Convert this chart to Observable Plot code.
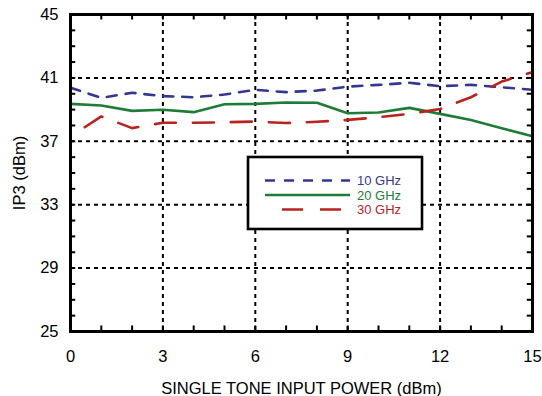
<!DOCTYPE html>
<html><head><meta charset="utf-8">
<script src="https://cdn.jsdelivr.net/npm/d3@7"></script>
<script src="https://cdn.jsdelivr.net/npm/@observablehq/plot@0.6"></script>
<style>body{margin:0;background:#fff;} svg{display:block;}</style>
</head><body><div id="chart"></div>
<script>
const power = [0,1,2,3,4,5,6,7,8,9,10,11,12,13,14,15];
const ghz10 = [40.38,39.74,40.06,39.85,39.78,39.95,40.25,40.1,40.2,40.45,40.56,40.69,40.48,40.56,40.41,40.25];
const ghz20 = [39.36,39.26,38.92,38.99,38.84,39.34,39.36,39.45,39.43,38.77,38.82,39.11,38.73,38.35,37.83,37.32];
const ghz30 = [37.3,38.57,37.83,38.17,38.17,38.2,38.25,38.15,38.23,38.35,38.52,38.73,39.04,39.78,40.77,41.36];
const xTicks = [0,3,6,9,12,15];
const yTicks = [25,29,33,37,41,45];
const xMinor = d3.range(0,16,1);
const yMinor = d3.range(25,46,1);
const seriesNames = ["10 GHz","20 GHz","30 GHz"];
const colors = ["#33378f","#1e7b38","#b8231f"];
const dashes = ["10,9",null,"21,17"];
const offsets = [0,0,21];

const rows = [];
[ghz10,ghz20,ghz30].forEach((vals,i)=>vals.forEach((v,j)=>rows.push({series:seriesNames[i],x:power[j],y:v})));

const font = "'Liberation Sans', Arial, Helvetica, sans-serif";
const lineMarks = seriesNames.map((s,i)=>Plot.line(rows.filter(r=>r.series===s),{
  x:"x", y:"y", stroke:colors[i], strokeWidth:2.6,
  strokeDasharray:dashes[i]||undefined, strokeDashoffset:offsets[i], curve:"linear"
}));

const chart = Plot.plot({
  width:542, height:396,
  marginLeft:70, marginRight:10, marginTop:14, marginBottom:65,
  style:{fontFamily:font, fontSize:"16.5px", background:"#fff", color:"#000"},
  x:{domain:[0,15]},
  y:{domain:[25,45]},
  marks:[
    Plot.ruleX(xTicks.slice(1,-1),{x:d=>d, stroke:"#000", strokeWidth:2, strokeDasharray:"4,4"}),
    Plot.ruleY(yTicks.slice(1,-1),{y:d=>d, stroke:"#000", strokeWidth:2, strokeDasharray:"4,4"}),
    Plot.ruleX(xMinor,{x:d=>d, y1:25, y2:25.35, stroke:"#000", strokeWidth:2}),
    Plot.ruleX(xMinor,{x:d=>d, y1:45, y2:44.65, stroke:"#000", strokeWidth:2}),
    Plot.ruleY(yMinor,{y:d=>d, x1:0, x2:0.17, stroke:"#000", strokeWidth:2}),
    Plot.ruleY(yMinor,{y:d=>d, x1:15, x2:14.83, stroke:"#000", strokeWidth:2}),
    ...lineMarks,
    Plot.frame({stroke:"#000", strokeWidth:3}),
    Plot.axisX({ticks:xTicks, tickSize:0, tickPadding:19, fontSize:16.5, label:"SINGLE TONE INPUT POWER (dBm)", labelAnchor:"center", labelArrow:"none", labelOffset:62}),
    Plot.axisY({ticks:yTicks, tickSize:0, tickPadding:12, fontSize:16.5, label:"IP3 (dBm)", labelAnchor:"center", labelArrow:"none", labelOffset:57})
  ]
});
document.getElementById("chart").appendChild(chart);

// legend
const svg = d3.select(chart);
const lg = svg.append("g");
lg.append("rect").attr("x",248).attr("y",157).attr("width",174).attr("height",72)
  .attr("fill","#fff").attr("stroke","#000").attr("stroke-width",2.6);
seriesNames.forEach((s,i)=>{
  const y = 180.5 + i*14.5;
  lg.append("line").attr("x1",265).attr("x2",350).attr("y1",y).attr("y2",y)
    .attr("stroke",colors[i]).attr("stroke-width",2.6)
    .attr("stroke-dasharray",dashes[i]||null).attr("stroke-dashoffset",offsets[i]);
  lg.append("text").attr("x",357).attr("y",y).attr("dy","0.36em")
    .attr("text-anchor","start")
    .attr("fill",colors[i]).style("font-size","13px").style("font-family",font).text(s);
});
</script></body></html>
